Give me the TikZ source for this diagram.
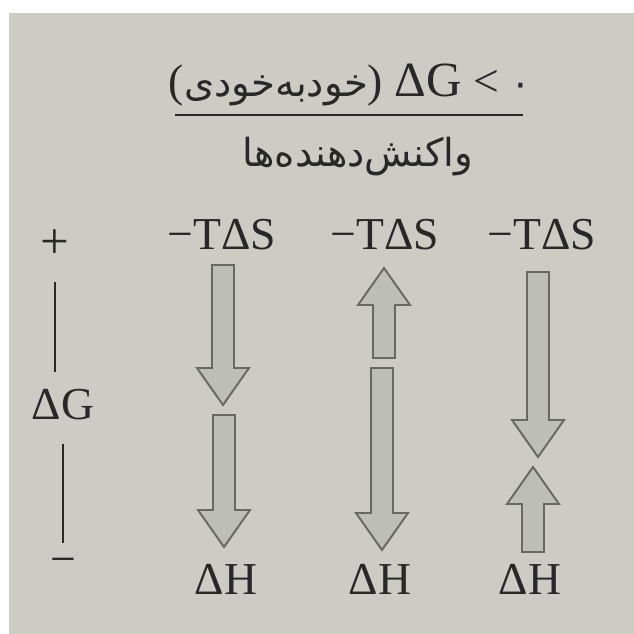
\documentclass[tikz,border=0pt]{standalone}
\usepackage{fontspec}
\setmainfont{Liberation Serif}
\newfontfamily\arabicfont[Script=Arabic]{DejaVu Sans}
\TeXXeTstate=1
\usetikzlibrary{calc}

\definecolor{paper}{RGB}{204,204,196}
\definecolor{ink}{RGB}{40,40,40}
\definecolor{arrowline}{RGB}{105,105,100}
\definecolor{arrowfill}{RGB}{190,190,184}

% block arrow: x, tail y, tip y (y grows downwards)
\newcommand{\blockarrow}[3]{%
  \pgfmathsetmacro\sgn{sign(#3-#2)}
  \pgfmathsetmacro\hb{#3-\sgn*37}
  \draw[blockarr] (#1-11,#2) -- (#1-11,\hb) -- (#1-26,\hb) -- (#1,#3)
    -- (#1+26,\hb) -- (#1+11,\hb) -- (#1+11,#2) -- cycle;
}

\begin{document}
\begin{tikzpicture}[x=0.02cm, y=-0.02cm,
  lab/.style={font=\fontsize{26}{28}\selectfont, text=ink, inner sep=0pt},
  fa/.style={font=\arabicfont\fontsize{22}{26}\selectfont, text=ink, inner sep=0pt},
  blockarr/.style={draw=arrowline, fill=arrowfill, line width=1.1pt, line join=miter},
  axisline/.style={draw=ink, line width=1.5pt}]
  \useasboundingbox (0,0) rectangle (634,634);
  \fill[white] (0,0) rectangle (634,634);
  \fill[paper] (9,13) rectangle (634,634);

  % title and rule
  \node[lab, anchor=base] (title) at (350,97)
    {({\arabicfont\fontsize{22}{26}\selectfont\beginR خودبه‌خودی\endR}) {\fontsize{28}{30}\selectfont ΔG} < {\arabicfont\fontsize{22}{26}\selectfont ۰}};
  \draw[ink, line width=1.6pt] (175,115) -- (523,115);
  \node[fa] (react) at (358,157) {\beginR واکنش‌دهنده‌ها\endR};

  % Delta G axis
  \node[lab, font=\fontsize{29}{30}\selectfont] (plus) at (55,244) {+};
  \node[lab] (dg) at (63,405) {ΔG};
  \node[lab] (minus) at (63,566) {−};
  \draw[axisline, shorten <=0.46cm, shorten >=0.34cm] (plus.south) -- (plus.south |- dg.north);
  \draw[axisline, shorten <=0.46cm, shorten >=0.3cm] (minus.north |- dg.south) -- (minus.north);

  % top labels
  \node[lab] (ts1) at (222,235) {−TΔS};
  \node[lab] (ts2) at (385,235) {−TΔS};
  \node[lab] (ts3) at (542,235) {−TΔS};

  % bottom labels
  \node[lab] (dh1) at (226,579) {ΔH};
  \node[lab] (dh2) at (380,579) {ΔH};
  \node[lab] (dh3) at (530,579) {ΔH};

  % arrows
  \blockarrow{223}{265}{405}
  \blockarrow{224}{415}{547}
  \blockarrow{384}{358}{268}
  \blockarrow{382}{368}{550}
  \blockarrow{538}{272}{457}
  \blockarrow{533}{552}{467}
\end{tikzpicture}
\end{document}
